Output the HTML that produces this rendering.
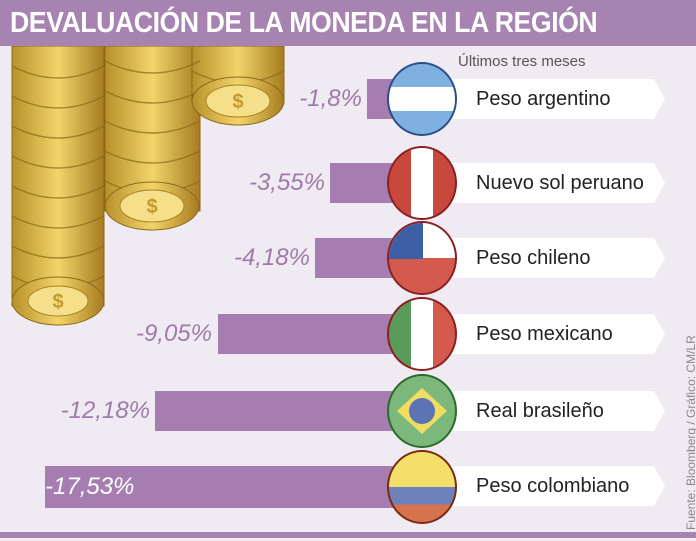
<!DOCTYPE html>
<html><head><meta charset="utf-8"><style>
body{margin:0;width:696px;height:541px;overflow:hidden;background:#f0ebf2;font-family:"Liberation Sans",sans-serif;position:relative}
.t{position:absolute;left:0;top:0;width:696px;height:46px;background:#a783b2}
.t span{position:absolute;left:10px;top:0;color:#fff;font-weight:bold;font-size:29px;line-height:46px;letter-spacing:-0.5px;transform:scaleX(0.92);transform-origin:0 0;white-space:nowrap}
.bar{position:absolute;background:#a67db0;height:40px}
.v{position:absolute;color:#a07aaa;font-style:italic;font-size:24px;text-align:right;width:200px}
.lab{position:absolute;left:440px;width:225px;height:40px;background:#fff;clip-path:polygon(0 0,95% 0,100% 50%,95% 100%,0 100%);font-size:20px;color:#222;line-height:40px;padding-left:36px;box-sizing:border-box}
.c{position:absolute;width:70px;height:74px;border-radius:50%;overflow:hidden;left:387px;box-sizing:border-box;border:2px solid #444}
</style></head><body>
<div class="t"><span>DEVALUACIÓN DE LA MONEDA EN LA REGIÓN</span></div>
<svg style="position:absolute;left:0;top:46px" width="300" height="290">
<defs><linearGradient id="g" x1="0" x2="1"><stop offset="0" stop-color="#b8902a"/><stop offset=".5" stop-color="#f2d46a"/><stop offset="1" stop-color="#a67c20"/></linearGradient></defs>
<g fill="url(#g)" stroke="#8a6a18" stroke-width="1">
<rect x="12" y="0" width="92" height="260"/>
<rect x="105" y="0" width="95" height="165"/>
<rect x="192" y="0" width="92" height="55"/>
</g>
<g fill="none" stroke="#8a6a18" stroke-width="1.5" opacity=".7">
<path d="M12 20 Q58 44 104 20M12 50 Q58 74 104 50M12 80 Q58 104 104 80M12 110 Q58 134 104 110M12 140 Q58 164 104 140M12 170 Q58 194 104 170M12 200 Q58 224 104 200M12 230 Q58 254 104 230"/>
<path d="M105 15 Q152 39 200 15M105 45 Q152 69 200 45M105 75 Q152 99 200 75M105 105 Q152 129 200 105M105 135 Q152 159 200 135"/>
<path d="M192 25 Q238 49 284 25"/>
</g>
<g fill="url(#g)" stroke="#8a6a18" stroke-width="1">
<ellipse cx="58" cy="255" rx="46" ry="24"/>
<ellipse cx="152" cy="160" rx="47" ry="24"/>
<ellipse cx="238" cy="55" rx="46" ry="24"/>
</g>
<g fill="#f6df8a" stroke="#a8821f"><ellipse cx="152" cy="160" rx="32" ry="16"/><ellipse cx="238" cy="55" rx="32" ry="16"/><ellipse cx="58" cy="255" rx="30" ry="15"/></g>
<g fill="#c49a2c" font-size="20" font-weight="bold" text-anchor="middle"><text x="152" y="167">$</text><text x="238" y="62">$</text><text x="58" y="262">$</text></g>
</svg>
<div style="position:absolute;left:458px;top:53px;font-size:15px;color:#555">Últimos tres meses</div>
<div class="bar" style="left:367px;top:79px;width:60px"></div>
<div class="bar" style="left:330px;top:163px;width:97px"></div>
<div class="bar" style="left:315px;top:238px;width:112px"></div>
<div class="bar" style="left:218px;top:314px;width:209px"></div>
<div class="bar" style="left:155px;top:391px;width:272px"></div>
<div class="bar" style="left:45px;top:466px;width:382px;height:42px"></div>
<div class="v" style="left:162px;top:85px">-1,8%</div>
<div class="v" style="left:125px;top:169px">-3,55%</div>
<div class="v" style="left:110px;top:244px">-4,18%</div>
<div class="v" style="left:12px;top:320px">-9,05%</div>
<div class="v" style="left:-50px;top:397px">-12,18%</div>
<div class="v" style="left:45px;top:473px;text-align:left;color:#fff">-17,53%</div>
<div class="lab" style="top:79px">Peso argentino</div>
<div class="lab" style="top:163px">Nuevo sol peruano</div>
<div class="lab" style="top:238px">Peso chileno</div>
<div class="lab" style="top:314px">Peso mexicano</div>
<div class="lab" style="top:391px">Real brasileño</div>
<div class="lab" style="top:466px">Peso colombiano</div>
<div class="c" style="top:62px;border-color:#2a4f8a;background:linear-gradient(#7eb0e0 33%,#fff 33%,#fff 67%,#7eb0e0 67%)"></div>
<div class="c" style="top:146px;border-color:#8a2020;background:linear-gradient(90deg,#c8483e 33%,#fff 33%,#fff 67%,#c8483e 67%)"></div>
<div class="c" style="top:221px;border-color:#8a2020;background:linear-gradient(#fff 50%,#d55a4e 50%)"><div style="width:34px;height:36px;background:#3d5fa8"></div></div>
<div class="c" style="top:297px;border-color:#8a2020;background:linear-gradient(90deg,#5a9a5a 33%,#fff 33%,#fff 67%,#d55a4e 67%)"></div>
<div class="c" style="top:374px;border-color:#2c6a2c;background:#7cb87c"><div style="position:absolute;left:8px;top:12px;width:50px;height:46px;background:#f0dc60;clip-path:polygon(50% 0,100% 50%,50% 100%,0 50%)"></div><div style="position:absolute;left:20px;top:22px;width:26px;height:26px;border-radius:50%;background:#5d74b4"></div></div>
<div class="c" style="top:450px;border-color:#7a2a10;background:linear-gradient(#f3df6a 50%,#6d82ba 50%,#6d82ba 75%,#d6724e 75%)"></div>
<div style="position:absolute;left:684px;top:530px;transform:rotate(-90deg);transform-origin:0 0;white-space:nowrap;font-size:12px;color:#888">Fuente: Bloomberg / Gráfico: CM/LR</div>
<div style="position:absolute;left:0;top:532px;width:696px;height:6px;background:#a783b2"></div>
</body></html>
